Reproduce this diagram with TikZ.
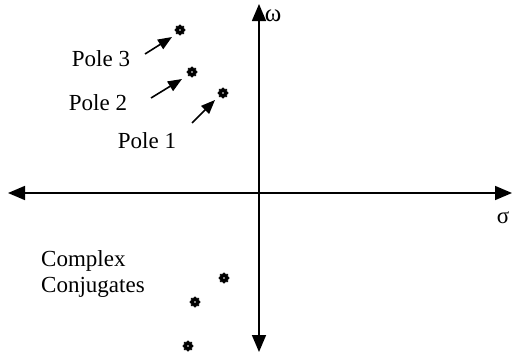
\documentclass[tikz,border=0pt]{standalone}
\usepackage{fontspec}
\setmainfont{Liberation Serif}
\usetikzlibrary{arrows.meta,shapes.geometric}

\tikzset{
  pole/.style={star,star points=8,star point ratio=1.3,fill=black,draw=black,line width=0.6pt,
    minimum size=10.5pt,inner sep=0pt,
    path picture={\fill[white] (path picture bounding box.center) circle (0.9pt);}},
  axis/.style={line width=1.6pt,{Triangle[length=17pt,width=14pt]}-{Triangle[length=17pt,width=14pt]}},
  pointer/.style={line width=1.6pt,-{Triangle[length=14pt,width=11pt]}},
  lbl/.style={font=\fontsize{23}{26}\selectfont,inner sep=0pt}
}

\begin{document}
\begin{tikzpicture}[x=1pt,y=-1pt]
\useasboundingbox (0,0) rectangle (513,356);

% axes
\coordinate (west) at (8,193);
\coordinate (east) at (512,193);
\coordinate (north) at (259,4);
\coordinate (south) at (259,352);
\draw[axis] (west) -- (east);
\draw[axis] (north) -- (south);

\node[lbl,font=\fontsize{25}{28}\selectfont] (omega) at (273,16) {ω};
\node[lbl] (sigma) at (503,218) {σ};

% poles
\node[pole] (p3) at (180,30) {};
\node[pole] (p2) at (192,72) {};
\node[pole] (p1) at (223,93) {};

\node[pole] (c1) at (224,278) {};
\node[pole] (c2) at (195,302) {};
\node[pole] (c3) at (188,346) {};

% labels
\node[lbl] (l3) at (101,59) {Pole 3};
\node[lbl] (l2) at (98,103) {Pole 2};
\node[lbl] (l1) at (147,141) {Pole 1};

\coordinate (a3) at (145,54);
\coordinate (b3) at (172,37);
\coordinate (a2) at (151,98);
\coordinate (b2) at (182,79);
\coordinate (a1) at (192,123);
\coordinate (b1) at (215,100);
\draw[pointer] (a3) -- (b3);
\draw[pointer] (a2) -- (b2);
\draw[pointer] (a1) -- (b1);

\node[lbl,anchor=north west,align=left] (cc) at (41,250) {Complex\\Conjugates};
\end{tikzpicture}
\end{document}
